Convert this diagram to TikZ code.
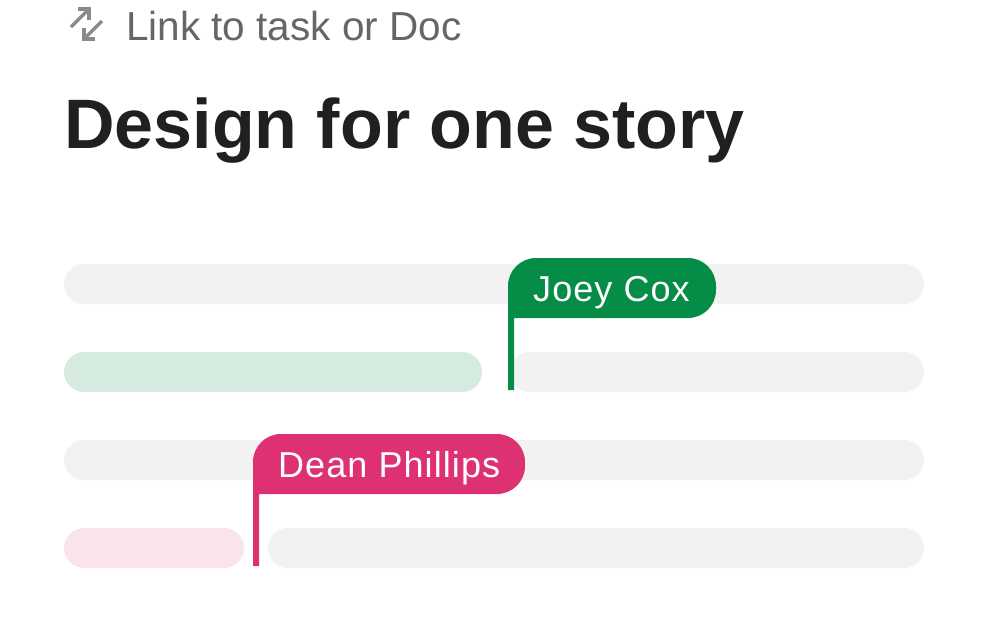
\documentclass[tikz,border=0pt]{standalone}
\usepackage{fontspec}
\setmainfont{Liberation Sans}
\definecolor{barg}{HTML}{F2F2F2}
\definecolor{jg}{HTML}{058C47}
\definecolor{jgl}{HTML}{D5EBDF}
\definecolor{dp}{HTML}{DD3173}
\definecolor{dpl}{HTML}{FBE3EE}
\definecolor{txt}{HTML}{202020}
\definecolor{gr}{HTML}{666666}
\definecolor{ic}{HTML}{8A8A8A}
\begin{document}
\begin{tikzpicture}[x=1pt,y=-1pt,
  bar/.style={rounded corners=20pt},
  flagtext/.style={text=white,font=\fontsize{36}{36}\selectfont\addfontfeature{LetterSpace=3},anchor=base west,inner sep=0}]
\useasboundingbox[fill=white] (0,0) rectangle (988,632);
\fill[barg,bar] (64,264) rectangle (924,304);
\fill[jgl,bar] (64,352) rectangle (482,392);
\fill[barg,bar] (510,352) rectangle (924,392);
\fill[barg,bar] (64,440) rectangle (924,480);
\fill[dpl,bar] (64,528) rectangle (244,568);
\fill[barg,bar] (268,528) rectangle (924,568);
% green flag
\fill[jg] (508,390) [rounded corners=28pt] -- (508,258) -- (716,258) -- (716,318) [sharp corners] -- (514,318) -- (514,390) -- cycle;
\node[flagtext] (jc) at (533,301) {Joey Cox};
% pink flag
\fill[dp] (253,566) [rounded corners=28pt] -- (253,434) -- (525,434) -- (525,494) [sharp corners] -- (259,494) -- (259,566) -- cycle;
\node[flagtext] (dpn) at (278,477) {Dean Phillips};
% header
\begin{scope}[ic,line width=3.5pt]
\draw (71,27) -- (89,9); \draw (78,9) -- (89,9) -- (89,20);
\draw (84,39) -- (102,21); \draw (84,28) -- (84,39) -- (95,39);
\end{scope}
\node[text=gr,font=\fontsize{40.5}{40.5}\selectfont,anchor=base west,inner sep=0] (lk) at (126,40) {Link to task or Doc};
\node[text=txt,font=\fontsize{70}{70}\selectfont\bfseries,anchor=base west,inner sep=0] (tt) at (64,148) {Design for one story};
\end{tikzpicture}
\end{document}
